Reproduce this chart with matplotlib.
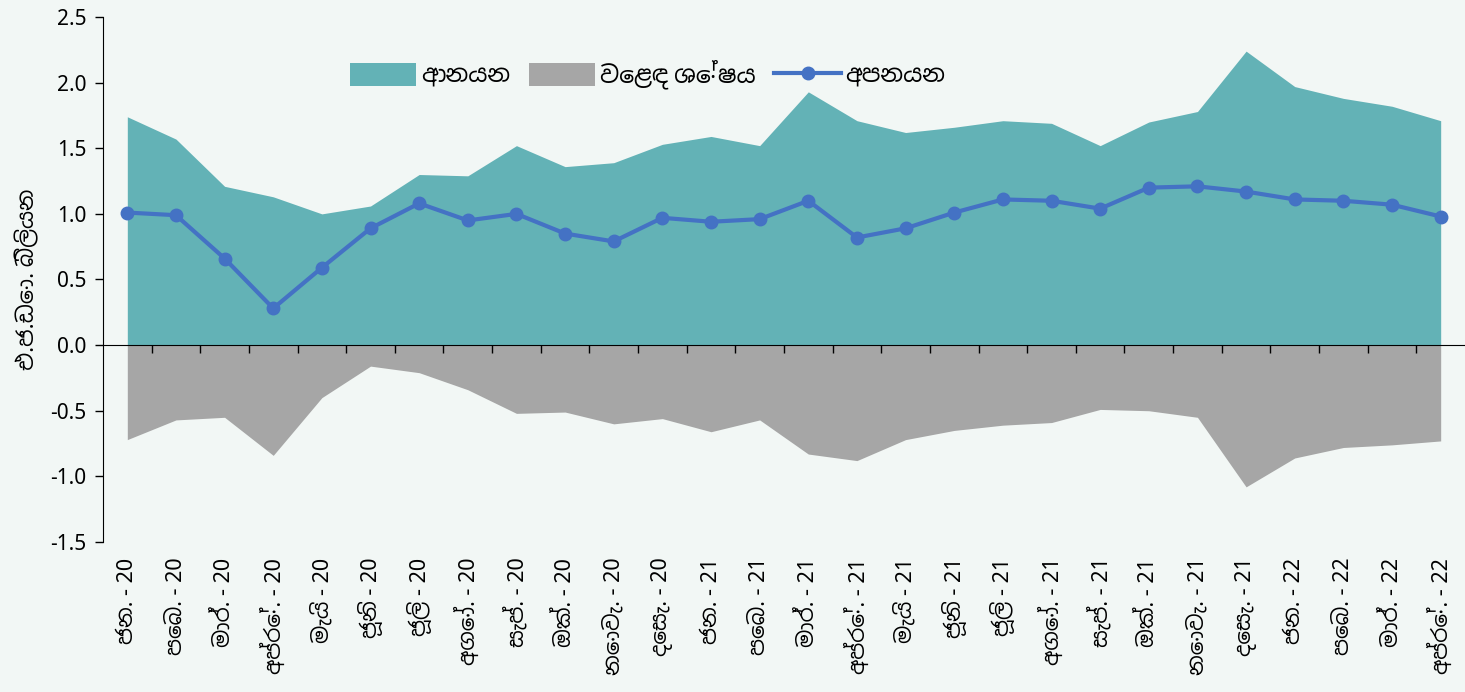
import matplotlib
matplotlib.use("Agg")
import matplotlib.pyplot as plt
from matplotlib import font_manager, ft2font
from matplotlib.patches import Patch
from matplotlib.lines import Line2D
import matplotlib.transforms as mtrans
import numpy as np

# months (Sinhala abbreviations) and years
months = ["ජන.", "පෙබ.", "මාර්.", "අප්‍රේ.", "මැයි", "ජූනි", "ජූලි", "අගෝ.",
          "සැප්.", "ඔක්.", "නොවැ.", "දෙසැ.",
          "ජන.", "පෙබ.", "මාර්.", "අප්‍රේ.", "මැයි", "ජූනි", "ජූලි", "අගෝ.",
          "සැප්.", "ඔක්.", "නොවැ.", "දෙසැ.",
          "ජන.", "පෙබ.", "මාර්.", "අප්‍රේ."]
years = ["20"] * 12 + ["21"] * 12 + ["22"] * 4

imports = [1.74, 1.57, 1.21, 1.13, 1.00, 1.06, 1.30, 1.29, 1.52, 1.36, 1.39, 1.53,
           1.59, 1.52, 1.93, 1.71, 1.62, 1.66, 1.71, 1.69, 1.52, 1.70, 1.78, 2.24,
           1.97, 1.88, 1.82, 1.71]
exports = [1.01, 0.99, 0.66, 0.28, 0.59, 0.89, 1.08, 0.95, 1.00, 0.85, 0.79, 0.97,
           0.94, 0.96, 1.10, 0.82, 0.89, 1.01, 1.11, 1.10, 1.04, 1.20, 1.21, 1.17,
           1.11, 1.10, 1.07, 0.98]
balance = [-0.72, -0.57, -0.55, -0.84, -0.40, -0.16, -0.21, -0.34, -0.52, -0.51, -0.60, -0.56,
           -0.66, -0.57, -0.83, -0.88, -0.72, -0.65, -0.61, -0.59, -0.49, -0.50, -0.55, -1.08,
           -0.86, -0.78, -0.76, -0.73]

legend_labels = ["ආනයන", "වෙළඳ ශේෂය", "අපනයන"]
ylabel = "එ.ජ.ඩො. බිලියන"


# pick an installed font that has Sinhala glyphs
def sinhala_font():
    found = []
    for entry in font_manager.fontManager.ttflist:
        try:
            cmap = ft2font.FT2Font(entry.fname).get_charmap()
        except Exception:
            continue
        if 0x0D9A in cmap and 0x0DD9 in cmap:
            found.append(entry.name)
    for n in found:
        if "Sinhala" in n:
            return n
    return found[0] if found else None


sin_font = sinhala_font()
plt.rcParams["font.family"] = ["Noto Sans"] + ([sin_font] if sin_font else []) + ["DejaVu Sans"]

bg = "#f2f7f5"
teal = "#63b2b6"
gray = "#a6a6a6"
blue = "#4472c4"

fig = plt.figure(figsize=(14.65, 6.92), dpi=100, facecolor=bg)
ax = fig.add_axes([0.0703, 0.2168, 0.9297, 0.7586])
ax.set_facecolor(bg)

x = np.arange(len(months))
ax.fill_between(x, 0, imports, color=teal, linewidth=0)
ax.fill_between(x, 0, balance, color=gray, linewidth=0)
ax.plot(x, exports, color=blue, linewidth=3, marker="o", markersize=9)

ax.set_xlim(-0.5, len(months) - 0.5)
ax.set_ylim(-1.5, 2.5)
ax.set_yticks(np.arange(-1.5, 2.51, 0.5))
ax.set_yticklabels([f"{v:.1f}" for v in np.arange(-1.5, 2.51, 0.5)], fontsize=15)
ax.tick_params(axis="y", direction="out", length=6, width=1, pad=6)

for s in ["top", "right"]:
    ax.spines[s].set_visible(False)
ax.spines["bottom"].set_position(("data", 0))
ax.set_xticks(np.arange(0.5, len(months) - 0.5, 1.0))
ax.set_xticklabels([])
ax.tick_params(axis="x", direction="out", length=6, width=1)

# month labels sit below the plot area, not on the zero line
trans = mtrans.blended_transform_factory(ax.transData, ax.transAxes)
for i, (m, yr) in enumerate(zip(months, years)):
    ax.text(i, -0.03, f"{m} - {yr}", transform=trans, rotation=90,
            ha="center", va="top", fontsize=15.5)

ax.set_ylabel(ylabel, fontsize=16, labelpad=8)

handles = [Patch(facecolor=teal, edgecolor="none"),
           Patch(facecolor=gray, edgecolor="none"),
           Line2D([0], [0], color=blue, linewidth=3, marker="o", markersize=9)]
ax.legend(handles, legend_labels, loc="upper center", bbox_to_anchor=(0.40, 0.96),
          ncol=3, frameon=False, fontsize=17, handlelength=2.8, handleheight=1.1,
          handletextpad=0.2, columnspacing=0.8)

fig.savefig("out.png", dpi=100, facecolor=bg)
